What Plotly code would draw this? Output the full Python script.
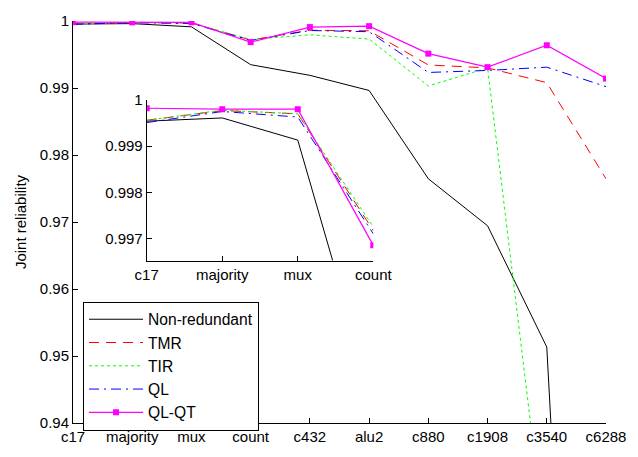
import plotly.graph_objects as go

categories = ["c17", "majority", "mux", "count", "c432", "alu2", "c880", "c1908", "c3540", "c6288"]
non_redundant = [0.99954, 0.99961, 0.99913, 0.99348, 0.99189, 0.98963, 0.97645, 0.96944, 0.95134, 0.788]
tmr = [0.99956, 0.99977, 0.99970, 0.99717, 0.99862, 0.99854, 0.99344, 0.99300, 0.99080, 0.97645]
tir = [0.99956, 0.99978, 0.99970, 0.99725, 0.99793, 0.99730, 0.99030, 0.99300, 0.92000, 0.90000]
ql = [0.99951, 0.99975, 0.99963, 0.99710, 0.99858, 0.99840, 0.99232, 0.99262, 0.99311, 0.99021]
ql_qt = [0.99982, 0.99980, 0.99980, 0.99685, 0.99909, 0.99923, 0.99513, 0.99311, 0.99638, 0.99141]

main_yticks = [0.94, 0.95, 0.96, 0.97, 0.98, 0.99, 1.0]
main_yticktext = ["0.94", "0.95", "0.96", "0.97", "0.98", "0.99", "1"]
inset_n = 4
inset_yticks = [0.997, 0.998, 0.999, 1.0]
inset_yticktext = ["0.997", "0.998", "0.999", "1"]

series = [
    ("Non-redundant", non_redundant, dict(color="black", width=1, dash="solid"), None),
    ("TMR", tmr, dict(color="#FF0000", width=1, dash="10px,7px"), None),
    ("TIR", tir, dict(color="#00FF00", width=1, dash="3px,3px"), None),
    ("QL", ql, dict(color="#0000FF", width=1, dash="10px,5px,2px,5px"), None),
    ("QL-QT", ql_qt, dict(color="#FF00FF", width=1.2, dash="solid"), dict(symbol="square", size=6, color="#FF00FF")),
]

FONT = "Liberation Sans, Arial, sans-serif"
fig = go.Figure()
xs = list(range(len(categories)))
for name, vals, line, marker in series:
    fig.add_trace(go.Scatter(
        x=xs, y=vals, name=name, mode="lines+markers" if marker else "lines",
        line=line, marker=marker, xaxis="x", yaxis="y", cliponaxis=True))
for name, vals, line, marker in series:
    fig.add_trace(go.Scatter(
        x=xs[:inset_n], y=vals[:inset_n], name=name, mode="lines+markers" if marker else "lines",
        line=line, marker=marker, xaxis="x2", yaxis="y2", showlegend=False))

axis_common = dict(showline=True, linecolor="black", linewidth=1, ticks="inside",
                   tickcolor="black", ticklen=5, tickwidth=1, showgrid=False, zeroline=False,
                   tickfont=dict(family=FONT, size=15, color="black"), mirror=False)

fig.update_layout(
    width=638, height=457,
    margin=dict(l=73, r=32, t=16, b=27),
    paper_bgcolor="white", plot_bgcolor="white",
    font=dict(family=FONT, size=15, color="black"),
    xaxis=dict(domain=[0, 1], range=[0, len(categories) - 1], tickvals=xs, ticktext=categories, **axis_common),
    yaxis=dict(domain=[0, 1], range=[0.94, 1.0], tickvals=main_yticks, ticktext=main_yticktext,
               title=dict(text="Joint reliability", font=dict(family=FONT, size=15, color="black"), standoff=9),
               **axis_common),
    xaxis2=dict(domain=[0.1383, 0.5634], range=[0, inset_n - 1], tickvals=xs[:inset_n],
                ticktext=categories[:inset_n], anchor="y2", **axis_common),
    yaxis2=dict(domain=[0.404, 0.8036], range=[0.99652, 1.0], tickvals=inset_yticks,
                ticktext=inset_yticktext, anchor="x2", **axis_common),
    legend=dict(x=0.0188, y=0.302, xanchor="left", yanchor="top", bgcolor="white",
                bordercolor="black", borderwidth=1, font=dict(family=FONT, size=15.6, color="black"),
                itemwidth=54, tracegroupgap=0),
    showlegend=True,
)

fig.write_html("out.html")
